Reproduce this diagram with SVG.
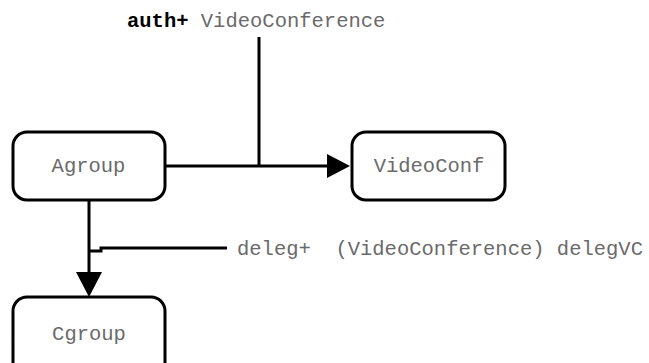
<svg xmlns="http://www.w3.org/2000/svg" width="649" height="363" viewBox="0 0 649 363">
  <style>
    .box { fill: #ffffff; stroke: #000000; stroke-width: 3; }
    .lbl { font-family: "Liberation Mono", "Courier New", monospace; font-size: 20.5px; fill: #6a6a6a; }
    .wire { fill: none; stroke: #000000; stroke-width: 3; }
    .head { fill: #000000; stroke: none; }
    .kw { font-weight: bold; fill: #000000; }
  </style>
  <rect width="649" height="363" fill="#ffffff"/>

  <g id="connectors">
    <!-- Agroup -> VideoConf -->
    <line class="wire" x1="165" y1="166" x2="331" y2="166"/>
    <polygon class="head" points="327,154 350,166 327,178"/>
    <!-- auth+ annotation stem -->
    <line class="wire" x1="259" y1="37" x2="259" y2="166"/>
    <!-- Agroup -> Cgroup -->
    <line class="wire" x1="89" y1="200" x2="89" y2="276"/>
    <polygon class="head" points="76,272 102,272 89,297"/>
    <!-- deleg+ annotation -->
    <path class="wire" d="M89,251 H101 V248 H227"/>
  </g>

  <g id="agroup">
    <rect class="box" x="13" y="132" width="152" height="68" rx="14"/>
    <text class="lbl" x="88.5" y="172" text-anchor="middle">Agroup</text>
  </g>

  <g id="videoconf">
    <rect class="box" x="352" y="132" width="153" height="68" rx="14"/>
    <text class="lbl" x="429" y="172" text-anchor="middle">VideoConf</text>
  </g>

  <g id="cgroup">
    <rect class="box" x="13" y="297" width="152" height="80" rx="14"/>
    <text class="lbl" x="89" y="340" text-anchor="middle">Cgroup</text>
  </g>

  <g id="labels">
    <text class="lbl" x="127" y="27"><tspan class="kw">auth+</tspan> VideoConference</text>
    <text class="lbl" x="237" y="255" xml:space="preserve">deleg+  (VideoConference) delegVC</text>
  </g>
</svg>
